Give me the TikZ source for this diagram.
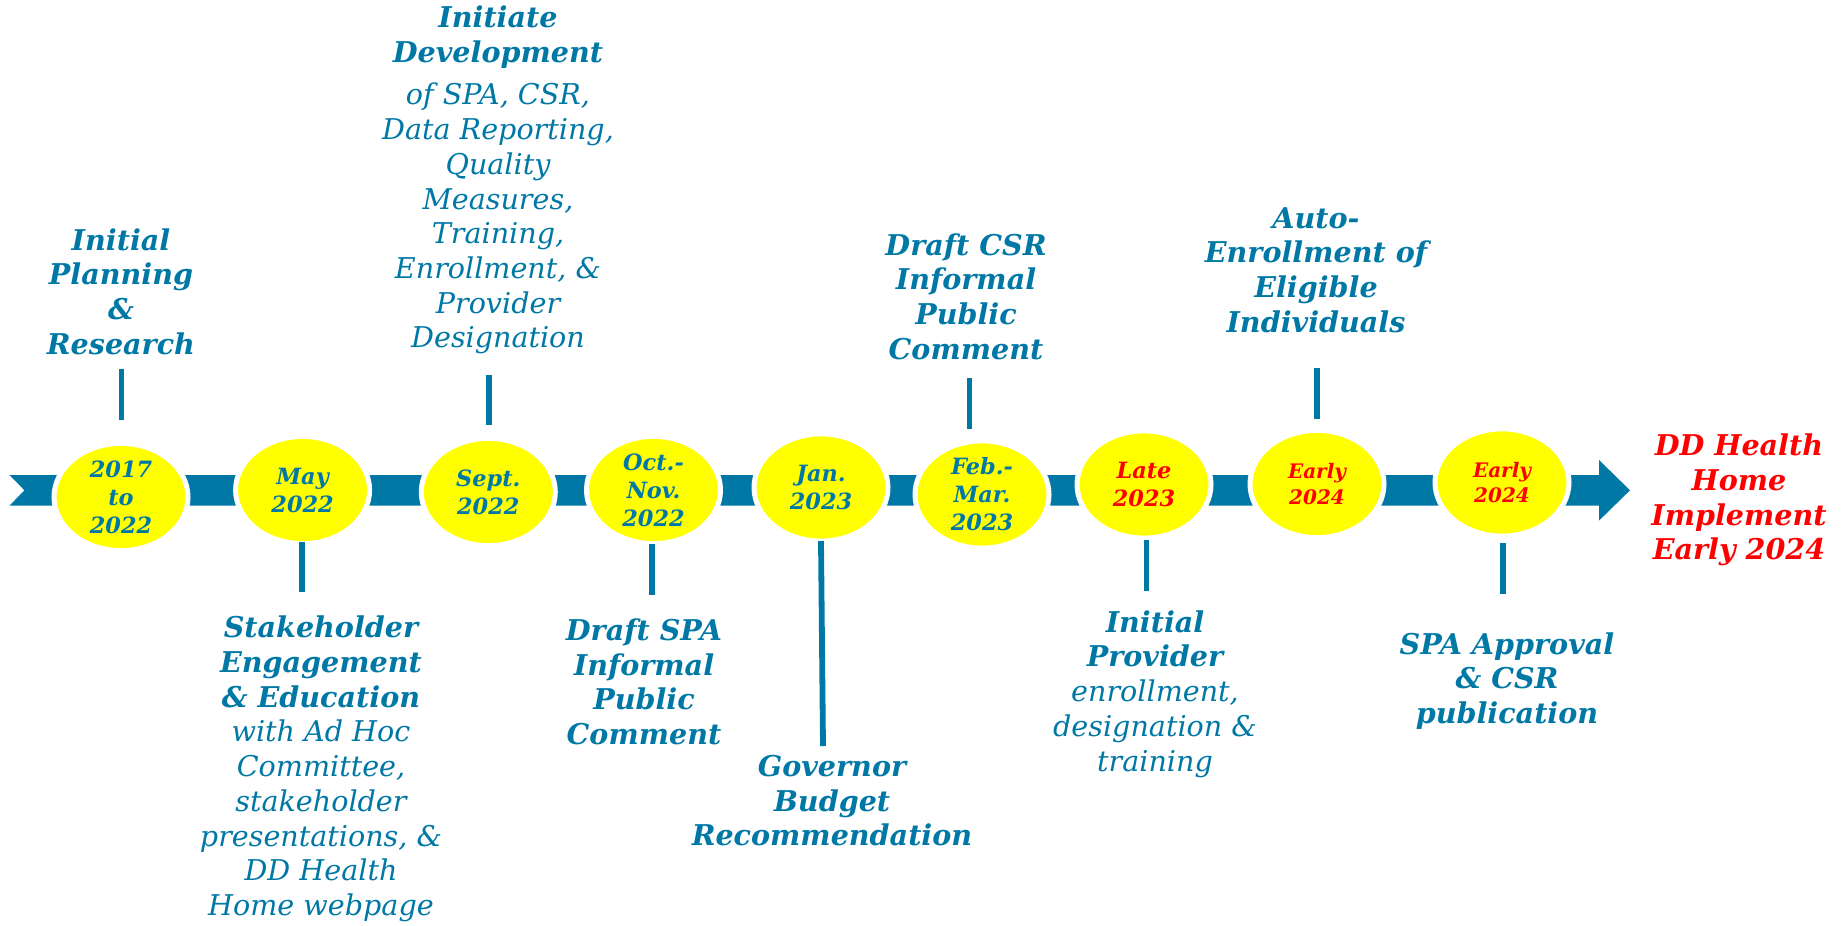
\documentclass[tikz,border=0pt]{standalone}
\usepackage{fontspec}
\setmainfont{DejaVu Serif}
\usetikzlibrary{shapes.geometric}
\definecolor{tblue}{RGB}{0,120,166}
\definecolor{tred}{RGB}{255,0,0}
\definecolor{tyel}{RGB}{255,255,0}
\tikzset{
  dot/.style={ellipse, fill=tyel, draw=white, line width=2.5pt, minimum width=67pt, minimum height=53.6pt, inner sep=0pt},
  dl/.style={text=tblue, align=center, inner sep=0pt, font=\fontsize{11.2}{14}\selectfont\bfseries\itshape},
  dlr/.style={dl, text=tred},
  dlrs/.style={dl, text=tred, font=\fontsize{10}{12.8}\selectfont\bfseries\itshape},
  hd/.style={text=tblue, align=center, inner sep=0pt, font=\fontsize{14.3}{17.35}\selectfont\bfseries\itshape},
  hdr/.style={hd, text=tred},
  conn/.style={draw=tblue, line width=2.9pt},
}
\begin{document}
\begin{tikzpicture}[x=0.5pt,y=-0.5pt]
\fill[white] (0,0) rectangle (1842,926);
\useasboundingbox (0,0) rectangle (1842,926);
% timeline band with arrow
\fill[tblue] (9.5,475) -- (1599,475) -- (1599,460) -- (1630,490.3) -- (1599,520.6) -- (1599,505.6) -- (9.5,505.6) -- (24.5,490.3) -- cycle;
% date discs
\node[dot, label={[dl]center:2017\\to\\2022}] (c1) at (121,497) {};
\node[dot, label={[dl]center:May\\2022}] (c2) at (302.6,490) {};
\node[dot, label={[dl]center:Sept.\\2022}] (c3) at (488.3,492) {};
\node[dot, label={[dl]center:Oct.-\\Nov.\\2022}] (c4) at (653.5,490) {};
\node[dot, label={[dl]center:Jan.\\2023}] (c5) at (821,487.5) {};
\node[dot, label={[dl]center:Feb.-\\Mar.\\2023}] (c6) at (982,494.5) {};
\node[dot, label={[dlr]center:Late\\2023}] (c7) at (1144,484.5) {};
\node[dot, label={[dlrs]center:Early\\2024}] (c8) at (1317,484) {};
\node[dot, label={[dlrs]center:Early\\2024}] (c9) at (1502,482.5) {};
% texts above
\node[hd] (t1) at (121,291.5) {Initial\\Planning\\\&\\Research};
\node[hd] (t2) at (498,180) {Initiate\\Development\\[4pt]\mdseries of SPA, CSR,\\\mdseries Data Reporting,\\\mdseries Quality\\\mdseries Measures,\\\mdseries Training,\\\mdseries Enrollment, \&\\\mdseries Provider\\\mdseries Designation};
\node[hd] (t3) at (966,296.5) {Draft CSR\\Informal\\Public\\Comment};
\node[hd] (t4) at (1316,270) {Auto-\\Enrollment of\\Eligible\\Individuals};
\node[hdr] (t5) at (1739,500) {DD Health\\Home\\Implement\\Early 2024};
% texts below
\node[hd] (b1) at (321,769) {Stakeholder\\Engagement\\\& Education\\\mdseries with Ad Hoc\\\mdseries Committee,\\\mdseries stakeholder\\\mdseries presentations, \&\\\mdseries DD Health\\\mdseries Home webpage};
\node[hd] (b2) at (644,681.7) {Draft SPA\\Informal\\Public\\Comment};
\node[hd] (b3) at (832,800.8) {Governor\\Budget\\Recommendation};
\node[hd] (b4) at (1155,694) {Initial\\Provider\\\mdseries enrollment,\\\mdseries designation \&\\\mdseries training};
\node[hd] (b5) at (1507,681) {SPA Approval\\\& CSR\\publication};
% connector ticks
\coordinate (l1a) at (121.5,369); \coordinate (l1b) at (121.5,420);
\coordinate (l2a) at (302,542);   \coordinate (l2b) at (302,592);
\coordinate (l3a) at (489,375);   \coordinate (l3b) at (489,425);
\coordinate (l4a) at (652,544);   \coordinate (l4b) at (652,595);
\coordinate (l5a) at (821,541);   \coordinate (l5b) at (823,746);
\coordinate (l6a) at (969.5,378); \coordinate (l6b) at (969.5,429);
\coordinate (l7a) at (1146.5,540);\coordinate (l7b) at (1146.5,591);
\coordinate (l8a) at (1317,368);  \coordinate (l8b) at (1317,419);
\coordinate (l9a) at (1503,543);  \coordinate (l9b) at (1503,594);
\foreach \i in {1,...,9} {\draw[conn] (l\i a) -- (l\i b);}
\end{tikzpicture}
\end{document}
